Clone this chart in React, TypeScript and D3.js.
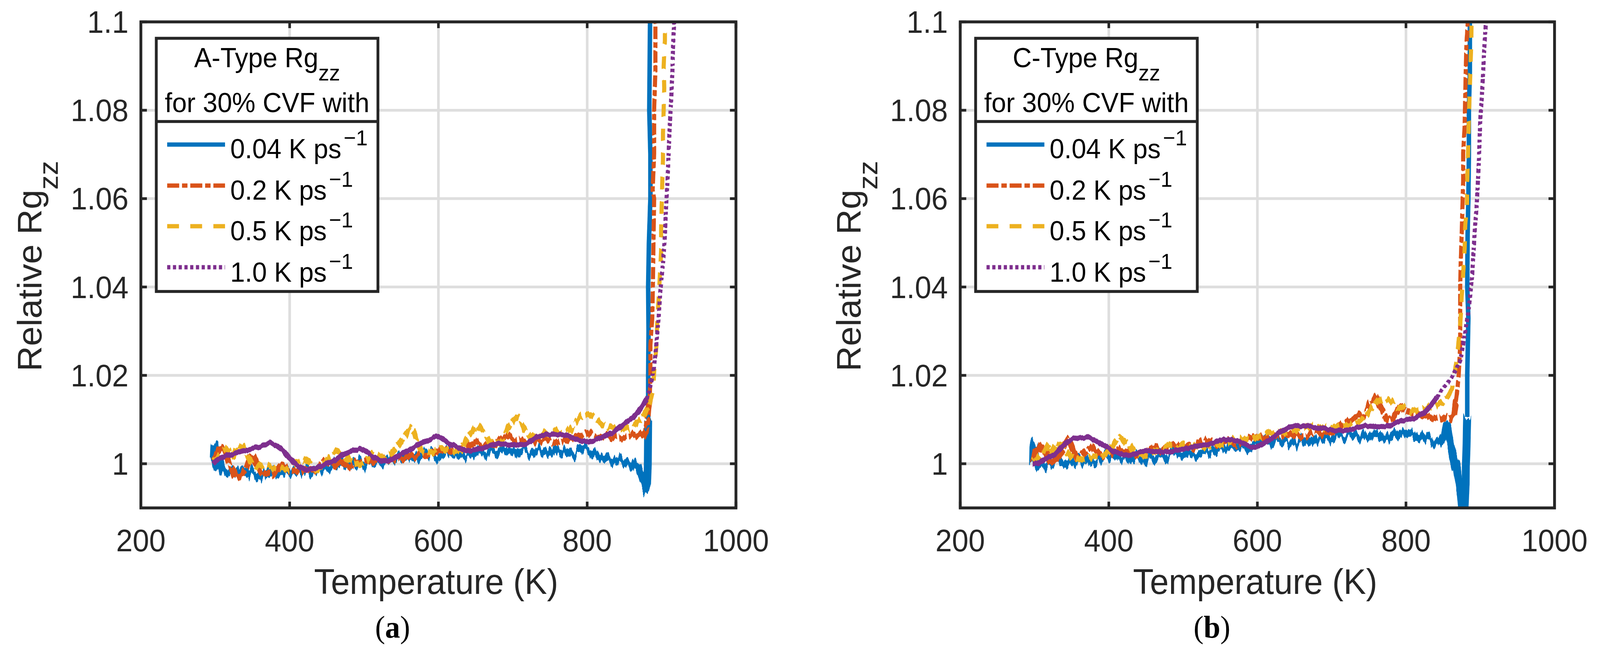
import React from 'react';
import * as d3 from 'd3';

type Pt = [number, number];

// ---------- data (Temperature K, relative Rg_zz) ----------
const X_TICKS = [200, 400, 600, 800, 1000];
const Y_TICKS = [1, 1.02, 1.04, 1.06, 1.08, 1.1];
const Y_TICK_LABELS = ['1', '1.02', '1.04', '1.06', '1.08', '1.1'];
const RATE_LABELS = ['0.04', '0.2', '0.5', '1.0'];
const PANEL_TYPES = ['A-Type', 'C-Type'];
const PANEL_TAGS = ['a', 'b'];

const A_004: Pt[] = [
  [298, 1.0005], [299, 1.0038], [300, 1.001], [302, 0.9995], [305, 1.001], [310, 0.9985], [316, 0.9983],
  [322, 0.998], [328, 0.9986], [335, 0.9988], [342, 0.9984], [348, 0.9976], [355, 0.9975], [362, 0.9973],
  [368, 0.9975], [375, 0.9978], [383, 0.9978], [392, 0.9981], [401, 0.9983], [412, 0.9983], [422, 0.9985],
  [435, 0.9987], [447, 0.999], [460, 0.9993], [473, 0.9996], [486, 0.9998], [499, 1.0002], [512, 1.0006],
  [525, 1.001], [537, 1.0014], [550, 1.0017], [563, 1.0019], [576, 1.0021], [590, 1.0021], [604, 1.002],
  [617, 1.0021], [630, 1.0022], [645, 1.0023], [660, 1.0025], [675, 1.0026], [690, 1.0027], [705, 1.0028],
  [720, 1.0028], [735, 1.0028], [750, 1.0027], [765, 1.0027], [780, 1.0026], [797, 1.0026], [810, 1.0024],
  [823, 1.0021], [833, 1.0017], [842, 1.0011], [852, 1.0006], [860, 0.9999], [866, 0.9993], [870, 0.9985],
  [873, 0.9975], [875, 0.9962], [877, 0.995], [879, 0.9942], [880.5, 0.9955], [881.5, 1.0], [882, 1.01],
  [882, 1.02], [882.5, 1.03], [882, 1.04], [883, 1.05], [885, 1.06], [885, 1.07], [883.5, 1.08], [884, 1.09],
  [884.5, 1.1], [885, 1.11],
];
const A_02: Pt[] = [
  [298, 1.001], [302, 1.0025], [305, 1.0034], [309, 1.0036], [313, 1.003], [318, 1.0005], [324, 0.998],
  [329, 0.997], [336, 0.9977], [342, 0.9989], [347, 1.0012], [351, 1.0016], [357, 0.9995], [362, 0.9976],
  [370, 0.998], [378, 0.9978], [388, 0.9997], [398, 0.9984], [409, 0.9983], [422, 0.9989], [434, 0.9987],
  [445, 1.0006], [460, 0.9998], [471, 1.0001], [481, 0.9993], [491, 1.0004], [512, 1.0007], [525, 1.0013],
  [537, 1.0008], [550, 1.001], [563, 1.0018], [576, 1.0019], [589, 1.0022], [604, 1.0026], [617, 1.0028],
  [630, 1.0034], [640, 1.004], [651, 1.0049], [661, 1.0043], [674, 1.004], [684, 1.0058], [694, 1.0061],
  [702, 1.0052], [713, 1.0055], [725, 1.0049], [736, 1.0052], [746, 1.0055], [756, 1.0046], [772, 1.0055],
  [787, 1.0061], [800, 1.007], [810, 1.0064], [823, 1.0061], [836, 1.0058], [849, 1.0061], [862, 1.0064],
  [874, 1.0061], [879, 1.0068], [880.5, 1.009], [882, 1.012], [884, 1.0146], [885, 1.02], [885, 1.027],
  [887.5, 1.033], [888.3, 1.04], [889, 1.0487], [890, 1.06], [888, 1.062], [890, 1.07], [890, 1.08],
  [891.7, 1.089], [891.7, 1.1], [892, 1.11],
];
const A_05: Pt[] = [
  [298, 1.0007], [306, 1.0022], [316, 1.0034], [324, 1.0019], [329, 1.0043], [337, 1.0037], [342, 1.0019],
  [347, 1.0007], [357, 0.9992], [365, 0.9998], [373, 0.9992], [383, 0.9989], [393, 0.9989], [404, 0.9992],
  [411, 1.0004], [419, 1.001], [429, 0.9998], [437, 0.9986], [447, 1.0004], [455, 1.0019], [463, 1.0028],
  [471, 1.0022], [478, 1.0013], [486, 0.9998], [496, 1.0001], [504, 1.001], [512, 1.0022], [525, 1.0013],
  [537, 1.0022], [548, 1.0049], [553, 1.0064], [561, 1.0082], [568, 1.0067], [571, 1.0049], [579, 1.0028],
  [589, 1.0022], [604, 1.0034], [617, 1.0028], [630, 1.0028], [638, 1.0055], [646, 1.0076], [652, 1.0088],
  [658, 1.0076], [664, 1.0064], [669, 1.0052], [676, 1.0046], [684, 1.0052], [692, 1.0073], [697, 1.0091],
  [704, 1.0103], [709, 1.01], [713, 1.0085], [718, 1.007], [723, 1.0061], [736, 1.0064], [751, 1.0073],
  [767, 1.0073], [777, 1.0076], [785, 1.0094], [792, 1.0109], [803, 1.0112], [810, 1.0106], [818, 1.0094],
  [829, 1.0082], [839, 1.0079], [849, 1.0079], [862, 1.0085], [870, 1.0097], [877, 1.0112], [884, 1.0134],
  [889, 1.017], [890, 1.0208], [893.4, 1.027], [894.3, 1.033], [896, 1.037], [897.7, 1.0425], [899.4, 1.048],
  [899.4, 1.053], [900.2, 1.0586], [901, 1.064], [901.9, 1.069], [901.9, 1.0747], [902.8, 1.08],
  [903.6, 1.085], [902.8, 1.09], [904.5, 1.0957], [904.5, 1.1], [905, 1.11],
];
const A_10: Pt[] = [
  [297, 1.0], [303, 1.001], [313, 1.0016], [324, 1.0022], [337, 1.0028], [349, 1.0034], [362, 1.004],
  [374, 1.0047], [383, 1.0041], [391, 1.0031], [398, 1.0016], [406, 1.0001], [414, 0.9992], [422, 0.9986],
  [434, 0.9989], [447, 0.9998], [460, 1.0007], [473, 1.0022], [486, 1.0031], [494, 1.0034], [501, 1.0028],
  [512, 1.0016], [525, 1.0005], [537, 1.001], [550, 1.0022], [563, 1.0034], [576, 1.0046], [589, 1.0056],
  [597, 1.0061], [604, 1.0058], [617, 1.0043], [630, 1.0034], [643, 1.0028], [656, 1.0034], [669, 1.004],
  [682, 1.0046], [694, 1.0043], [707, 1.0043], [720, 1.0046], [733, 1.0061], [746, 1.0067], [759, 1.0067],
  [772, 1.0064], [785, 1.0055], [798, 1.005], [810, 1.0053], [823, 1.0061], [836, 1.0072], [849, 1.009],
  [862, 1.0105], [870, 1.0121], [880, 1.0146], [886, 1.0183], [890, 1.022], [893, 1.027], [896, 1.033],
  [898.5, 1.0394], [902, 1.0456], [904.5, 1.0518], [906, 1.058], [908, 1.0641], [909.5, 1.0703],
  [911, 1.0765], [913, 1.0827], [914.6, 1.089], [915.5, 1.095], [917, 1.1], [918, 1.11],
];

const B_004: Pt[] = [
  [298, 0.9998], [298.5, 1.0035], [299.5, 1.0042], [301, 1.001], [305, 0.9998], [312, 0.9997], [318, 1.0003],
  [327, 1.0004], [336, 1.0004], [346, 1.0004], [357, 1.0006], [368, 1.0008], [378, 1.001], [388, 1.0012],
  [398, 1.0013], [410, 1.0014], [425, 1.0014], [445, 1.0015], [460, 1.0016], [475, 1.0017], [490, 1.002],
  [505, 1.0023], [522, 1.0025], [535, 1.0027], [548, 1.003], [562, 1.0033], [575, 1.0036], [590, 1.004],
  [604, 1.0044], [617, 1.0049], [630, 1.0051], [643, 1.0052], [656, 1.0054], [669, 1.0055], [682, 1.0056],
  [695, 1.0058], [708, 1.006], [720, 1.0061], [733, 1.0063], [746, 1.0064], [760, 1.0065], [772, 1.0065],
  [785, 1.0065], [798, 1.0064], [810, 1.0062], [820, 1.0058], [830, 1.0055], [840, 1.0052], [848, 1.0055],
  [852, 1.0068], [855, 1.0088], [857, 1.0075], [859, 1.0055], [862, 1.0033], [865, 1.001], [868.8, 0.9989],
  [871.3, 0.9955], [874, 0.993], [875.5, 0.99], [877, 0.988], [879, 0.99], [880.4, 0.996], [880.6, 1.0],
  [881.6, 1.0048], [882.5, 1.0106], [882.5, 1.02], [884, 1.033], [882.5, 1.04], [883, 1.052], [884, 1.06],
  [884.7, 1.07], [884.7, 1.08], [886, 1.089], [886, 1.1], [886.5, 1.11],
];
const B_02: Pt[] = [
  [297.5, 1.0004], [301, 1.0022], [305, 1.0031], [310, 1.0043], [316, 1.0025], [321, 1.0004], [326, 1.0007],
  [334, 1.0019], [339, 1.004], [344, 1.0055], [348, 1.0046], [352, 1.0028], [357, 1.001], [362, 1.0016],
  [370, 1.0031], [375, 1.004], [380, 1.0034], [385, 1.0022], [393, 1.0019], [401, 1.0031], [408, 1.0028],
  [419, 1.0028], [429, 1.0028], [439, 1.0019], [450, 1.0028], [457, 1.0037], [468, 1.0031], [481, 1.0037],
  [494, 1.004], [506, 1.0037], [519, 1.004], [530, 1.0052], [543, 1.0046], [558, 1.0049], [571, 1.0046],
  [586, 1.0058], [595, 1.0055], [604, 1.0059], [617, 1.0064], [630, 1.0064], [643, 1.0068], [656, 1.0062],
  [669, 1.0064], [677, 1.0071], [684, 1.0068], [695, 1.0071], [707, 1.0077], [715, 1.0095], [723, 1.0098],
  [733, 1.0106], [744, 1.0112], [751, 1.0133], [759, 1.0151], [764, 1.0136], [769, 1.0118], [775, 1.0101],
  [780, 1.0098], [785, 1.0112], [793, 1.013], [798, 1.0118], [806, 1.0112], [816, 1.0112], [824, 1.0106],
  [837, 1.0102], [849, 1.0106], [860, 1.0103], [865, 1.0115], [867, 1.014], [868.6, 1.016], [871, 1.02],
  [873, 1.027], [873, 1.033], [873, 1.04], [873.7, 1.0456], [875, 1.0518], [876, 1.058], [877, 1.0641],
  [877, 1.0703], [879, 1.0765], [879.7, 1.0827], [880.5, 1.089], [881.4, 1.095], [883, 1.0995], [884, 1.11],
];
const B_05: Pt[] = [
  [297.5, 1.0004], [305, 1.0013], [313, 1.0025], [319, 1.0037], [323, 1.0025], [330, 1.005], [336, 1.0043],
  [341, 1.0034], [346, 1.0022], [352, 1.001], [359, 1.0007], [370, 1.0013], [380, 1.0016], [390, 1.0016],
  [398, 1.0025], [406, 1.0043], [411, 1.0055], [415, 1.0061], [420, 1.0055], [424, 1.0046], [429, 1.0037],
  [434, 1.0025], [445, 1.0019], [455, 1.0022], [465, 1.0034], [473, 1.0037], [481, 1.0037], [491, 1.0037],
  [501, 1.0043], [512, 1.0043], [525, 1.004], [537, 1.0037], [550, 1.0043], [563, 1.0046], [576, 1.0058],
  [589, 1.0055], [602, 1.0061], [610, 1.0065], [617, 1.0068], [630, 1.0071], [643, 1.0074], [656, 1.008],
  [669, 1.0083], [682, 1.0084], [695, 1.0083], [707, 1.0081], [720, 1.0086], [733, 1.0095], [741, 1.0101],
  [749, 1.0115], [757, 1.0133], [762, 1.0142], [772, 1.0148], [782, 1.0139], [790, 1.0127], [798, 1.0124],
  [808, 1.0121], [819, 1.0124], [829, 1.0127], [839, 1.013], [849, 1.0139], [857, 1.0153], [862, 1.017],
  [865, 1.02], [868.6, 1.024], [871, 1.028], [873.7, 1.033], [875, 1.038], [877, 1.043], [879, 1.0487],
  [879.7, 1.0536], [882.2, 1.0586], [882.5, 1.064], [883.4, 1.069], [884.2, 1.0747], [885, 1.08],
  [886, 1.085], [887, 1.0905], [888, 1.096], [889, 1.11],
];
const B_10: Pt[] = [
  [297.5, 1.0], [305, 1.0], [313, 1.001], [321, 1.0016], [328, 1.0022], [336, 1.0037], [344, 1.005],
  [352, 1.0056], [362, 1.0059], [370, 1.0061], [377, 1.0056], [385, 1.005], [393, 1.0041], [401, 1.0034],
  [408, 1.0026], [419, 1.0019], [429, 1.002], [439, 1.0025], [450, 1.0029], [460, 1.0028], [473, 1.0026],
  [486, 1.0029], [499, 1.0032], [512, 1.0037], [525, 1.0043], [537, 1.0046], [550, 1.0053], [563, 1.0055],
  [576, 1.0049], [589, 1.004], [597, 1.0037], [604, 1.0042], [617, 1.0056], [630, 1.0071], [643, 1.0083],
  [656, 1.0086], [669, 1.0084], [682, 1.0081], [695, 1.0078], [707, 1.0074], [720, 1.0076], [733, 1.0081],
  [746, 1.0086], [759, 1.0084], [772, 1.0083], [785, 1.0092], [798, 1.0098], [811, 1.0103], [824, 1.0115],
  [834, 1.0133], [842, 1.0151], [847, 1.0165], [862, 1.0196], [873, 1.0233], [877, 1.027], [880.5, 1.0307],
  [884, 1.0344], [886.5, 1.0381], [889, 1.0425], [890.7, 1.0474], [892.7, 1.053], [895, 1.058],
  [896.6, 1.063], [898, 1.0679], [899, 1.0728], [900, 1.0778], [902, 1.0827], [904, 1.089], [905.7, 1.095],
  [907.7, 1.1], [909, 1.11],
];

const PANEL_SERIES: Pt[][][] = [
  [A_004, A_02, A_05, A_10],
  [B_004, B_02, B_05, B_10],
];

// ---------- styling ----------
const W = 4259;
const H = 1679;
const TOP = 56;
const BOTTOM = 1300;
const PANEL_X: [number, number][] = [[375, 1959], [2556, 4138]];
const COLORS = ['#0072BD', '#D95319', '#EDB120', '#7E2F8E'];
// true dash patterns (steep part + legend)
const DASHES = ['none', '32 7.5 14.5 7.5', '31.5 30', '8.5 6.8'];
// dash look of the densely sampled, noisy low-temperature part
const DASHES_FLAT = ['none', '60 6 20 6', '24 11', 'none'];
const NOISE = [52, 28, 24, 9];
const WIDTHS_FLAT = [21, 16, 15, 13];
const WIDTHS_STEEP = [12, 11, 11, 11];
const SPLIT_V = 1.016;
const AX = '#262626';
const GRID = '#dedede';
const SANS = '"Liberation Sans", Arial, Helvetica, sans-serif';
const SERIF = '"Liberation Serif", "Times New Roman", Times, serif';
const LW = 11;

function splitSeries(s: Pt[]): [Pt[], Pt[]] {
  let k = s.findIndex((d, i) => i > 5 && d[1] >= SPLIT_V);
  if (k < 0) k = s.length;
  return [s.slice(0, k), s.slice(Math.max(0, k - 1))];
}

function Panel({ idx }: { idx: number }) {
  const [left, right] = PANEL_X[idx];
  const x = d3.scaleLinear().domain([200, 1000]).range([left, right]);
  const y = d3.scaleLinear().domain([0.99, 1.1]).range([BOTTOM, TOP]);
  const line = d3.line<Pt>().x((d) => x(d[0])).y((d) => y(d[1]));
  const series = PANEL_SERIES[idx];
  const clipId = `clip-${idx}`;
  const lgX = left + 41;
  const lgY = 98;
  const lgW = 590;
  const lgH = 648;
  const sampleY = [370, 475, 579, 684];
  const textY = [405, 511, 615, 721];
  const cx = (left + right) / 2;

  return (
    <g>
      <defs>
        <clipPath id={clipId}>
          <rect x={left} y={TOP} width={right - left} height={BOTTOM - TOP} />
        </clipPath>
      </defs>
      {/* grid */}
      {X_TICKS.filter((t) => t > 200 && t < 1000).map((t) => (
        <line key={'gx' + t} x1={x(t)} x2={x(t)} y1={TOP} y2={BOTTOM} stroke={GRID} strokeWidth={7} />
      ))}
      {Y_TICKS.filter((t) => t < 1.1).map((t) => (
        <line key={'gy' + t} x1={left} x2={right} y1={y(t)} y2={y(t)} stroke={GRID} strokeWidth={7} />
      ))}
      {/* data */}
      <g clipPath={`url(#${clipId})`}>
        {series.map((s, i) => {
          const [flat, steep] = splitSeries(s);
          return (
            <g key={'s' + i}>
              <path
                d={line(flat) || ''}
                fill="none"
                stroke={COLORS[i]}
                strokeWidth={WIDTHS_FLAT[i]}
                strokeDasharray={DASHES_FLAT[i]}
                strokeLinejoin="round"
                strokeLinecap="butt"
                filter={`url(#noise${i})`}
              />
              {steep.length > 1 && (
                <path
                  d={line(steep) || ''}
                  fill="none"
                  stroke={COLORS[i]}
                  strokeWidth={WIDTHS_STEEP[i]}
                  strokeDasharray={DASHES[i]}
                  strokeLinejoin="round"
                  strokeLinecap="butt"
                  filter="url(#noiseSteep)"
                />
              )}
            </g>
          );
        })}
      </g>
      {/* axes box */}
      <rect x={left} y={TOP} width={right - left} height={BOTTOM - TOP} fill="none" stroke={AX} strokeWidth={7.5} />
      {/* ticks */}
      {X_TICKS.map((t) => (
        <g key={'tx' + t}>
          <line x1={x(t)} x2={x(t)} y1={BOTTOM} y2={BOTTOM - 16} stroke={AX} strokeWidth={7} />
          <line x1={x(t)} x2={x(t)} y1={TOP} y2={TOP + 16} stroke={AX} strokeWidth={7} />
          <text x={x(t)} y={1411} textAnchor="middle" fontSize={79} fontFamily={SANS} fill={AX}>
            {t}
          </text>
        </g>
      ))}
      {Y_TICKS.map((t, i) => (
        <g key={'ty' + t}>
          <line x1={left} x2={left + 16} y1={y(t)} y2={y(t)} stroke={AX} strokeWidth={7} />
          <line x1={right} x2={right - 16} y1={y(t)} y2={y(t)} stroke={AX} strokeWidth={7} />
          <text x={left - 33} y={y(t) + 28} textAnchor="end" fontSize={79} fontFamily={SANS} fill={AX}>
            {Y_TICK_LABELS[i]}
          </text>
        </g>
      ))}
      {/* axis labels */}
      <text x={cx - 6} y={1520} textAnchor="middle" fontSize={90} fontFamily={SANS} fill={AX}>
        Temperature (K)
      </text>
      <text
        transform={`translate(${left - 265},681) rotate(-90)`}
        textAnchor="middle"
        fontSize={90}
        fontFamily={SANS}
        fill={AX}
      >
        Relative Rg
        <tspan fontSize={74} dy={44}>zz</tspan>
      </text>
      <text x={left + 670} y={1632} textAnchor="middle" fontSize={80} fontFamily={SERIF} fill="#000">
        (<tspan fontWeight="bold">{PANEL_TAGS[idx]}</tspan>)
      </text>
      {/* legend */}
      <rect x={lgX} y={lgY} width={lgW} height={lgH} fill="#fff" stroke={AX} strokeWidth={7.5} />
      <line x1={lgX} x2={lgX + lgW} y1={311} y2={311} stroke={AX} strokeWidth={7.5} />
      <text x={lgX + lgW / 2} y={172} textAnchor="middle" fontSize={70} fontFamily={SANS} fill="#000">
        {PANEL_TYPES[idx]} Rg
        <tspan fontSize={58} dy={34}>zz</tspan>
      </text>
      <text x={lgX + lgW / 2} y={287} textAnchor="middle" fontSize={70} fontFamily={SANS} fill="#000">
        for 30% CVF with
      </text>
      {RATE_LABELS.map((r, i) => (
        <g key={'lg' + i}>
          <line
            x1={left + 70}
            x2={left + 224}
            y1={sampleY[i]}
            y2={sampleY[i]}
            stroke={COLORS[i]}
            strokeWidth={LW}
            strokeDasharray={DASHES[i]}
          />
          <text x={left + 238} y={textY[i]} fontSize={70} fontFamily={SANS} fill="#000">
            {r} K ps
            <tspan fontSize={56} dx={6} dy={-33}>
              {'\u22121'}
            </tspan>
          </text>
        </g>
      ))}
    </g>
  );
}

function NoiseFilter({ id, scale, freq }: { id: string; scale: number; freq: string }) {
  return (
    <filter id={id} filterUnits="userSpaceOnUse" x={0} y={0} width={W} height={H} colorInterpolationFilters="sRGB">
      <feTurbulence type="fractalNoise" baseFrequency={freq} numOctaves={3} seed={id.length + scale} result="t" />
      <feColorMatrix in="t" type="matrix" values="0 0 0 0 0.5  0 1 0 0 0  0 0 0 0 0  0 0 0 0 1" result="m" />
      <feDisplacementMap in="SourceGraphic" in2="m" scale={scale} xChannelSelector="R" yChannelSelector="G" />
    </filter>
  );
}

export default function App() {
  return (
    <svg
      viewBox={`0 0 ${W} ${H}`}
      preserveAspectRatio="none"
      style={{ position: 'fixed', left: 0, top: 0, width: '100%', height: '100%', background: '#fff' }}
    >
      <defs>
        {NOISE.map((sc, i) => (
          <NoiseFilter key={'f' + i} id={`noise${i}`} scale={sc} freq="0.09 0.004" />
        ))}
        <NoiseFilter id="noiseSteep" scale={10} freq="0.05 0.05" />
      </defs>
      <rect x={0} y={0} width={W} height={H} fill="#fff" />
      <Panel idx={0} />
      <Panel idx={1} />
    </svg>
  );
}
